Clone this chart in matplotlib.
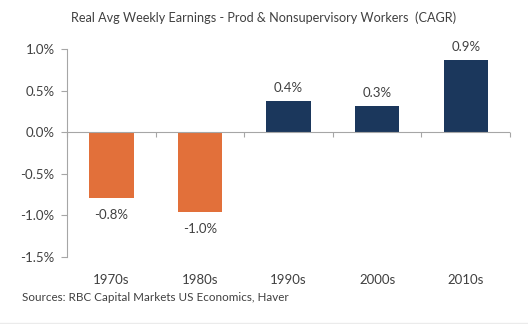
import matplotlib
matplotlib.use("Agg")
import matplotlib.pyplot as plt
from matplotlib.ticker import FuncFormatter

plt.rcParams['font.family'] = ['Lato', 'DejaVu Sans']

decades = ["1970s", "1980s", "1990s", "2000s", "2010s"]
cagr = [-0.79, -0.96, 0.37, 0.31, 0.87]
y_ticks = [1.0, 0.5, 0.0, -0.5, -1.0, -1.5]

orange = "#E2703A"
navy = "#1B375C"
text_col = "#404040"
axis_col = "#A6A6A6"

fig = plt.figure(figsize=(5.28, 3.24), dpi=100)
ax = fig.add_axes([0.127, 0.207, 0.839, 0.642])

x = list(range(len(decades)))
colors = [orange if v < 0 else navy for v in cagr]
ax.bar(x, cagr, width=0.5, color=colors, zorder=2)

for xi, v in zip(x, cagr):
    if v >= 0:
        ax.annotate(f"{v:.1f}%", (xi, v), xytext=(0, 5), textcoords="offset points",
                    ha="center", va="bottom", fontsize=9.5, color=text_col)
    else:
        ax.annotate(f"{v:.1f}%", (xi, v), xytext=(0, -8), textcoords="offset points",
                    ha="center", va="top", fontsize=9.5, color=text_col)

ax.set_xlim(-0.5, len(decades) - 0.5)
ax.set_ylim(-1.5, 1.0)
ax.set_yticks(y_ticks)
ax.yaxis.set_major_formatter(FuncFormatter(lambda v, _: f"{v:.1f}%"))
ax.tick_params(axis="y", length=4, color=axis_col, labelsize=9.5, labelcolor=text_col, pad=5)

ax.set_xticks(x)
ax.set_xticklabels(decades)
ax.tick_params(axis="x", length=0, labelsize=9.5, labelcolor=text_col, pad=12)

for s in ["top", "right", "bottom"]:
    ax.spines[s].set_visible(False)
ax.spines["left"].set_color(axis_col)
ax.spines["left"].set_linewidth(0.8)

# zero line with category-boundary tick marks
ax.axhline(0, color=axis_col, lw=0.8, zorder=3)
boundaries = [i - 0.5 for i in range(len(decades) + 1)]
ax.vlines(boundaries, 0, -0.06, color=axis_col, lw=0.8, zorder=3, clip_on=False)

fig.text(0.5, 0.944, "Real Avg Weekly Earnings - Prod & Nonsupervisory Workers  (CAGR)",
         ha="center", va="center", fontsize=9.1, color=text_col)
fig.text(0.042, 0.083, "Sources: RBC Capital Markets US Economics, Haver",
         ha="left", va="center", fontsize=8.4, color=text_col)

# faint frame line along the bottom edge
fig.add_artist(plt.Line2D([0, 1], [0.003, 0.003], transform=fig.transFigure,
                          color="#EBEBEB", lw=1))

fig.savefig("out.png", dpi=100, facecolor="white")
